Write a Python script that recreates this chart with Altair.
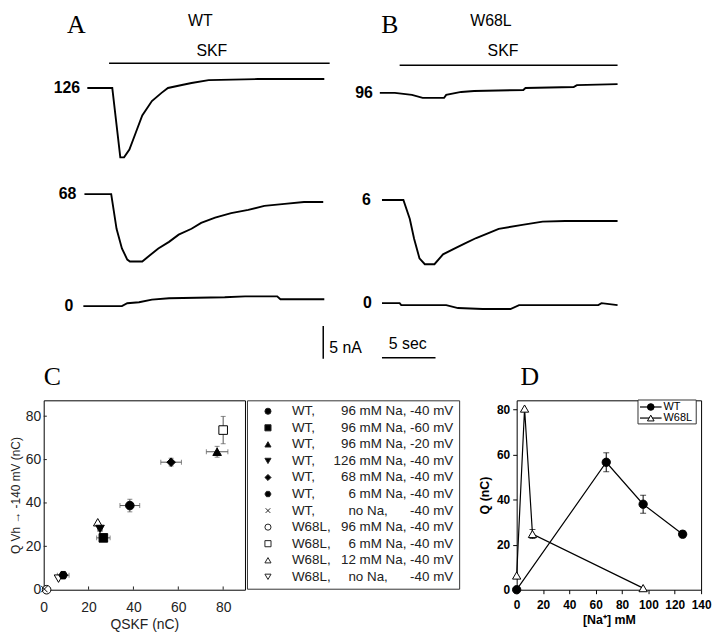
import altair as alt
import pandas as pd

FONT = "Liberation Sans"
SERIF = "Liberation Serif"

# ---------------- Panels A (WT) and B (W68L): current records ----------------
# time in s from the start of each record, current in nA relative to the holding current
a126_t = [0.37, 2.7, 3.45, 3.8, 4.3, 4.9, 5.5, 6.4, 7.3, 7.9, 9.2, 10.1, 11.7, 16.3, 22.5]
a126_i = [0.0, 0.0, -10.6, -10.6, -9.4, -6.8, -4.2, -2.0, -0.75, 0.0, 0.45, 0.75, 1.2, 1.36, 1.36]
a68_t = [0.1, 2.6, 3.1, 3.6, 4.1, 4.35, 5.5, 6.1, 7.0, 8.0, 8.9, 10.1, 11.0, 12.3, 13.8, 15.4, 16.9, 18.8, 20.6, 22.4]
a68_i = [0.0, 0.0, -5.3, -8.3, -10.0, -10.3, -10.3, -9.5, -8.3, -7.3, -6.2, -5.3, -4.4, -3.6, -2.9, -2.4, -1.8, -1.5, -1.2, -1.2]
a0_t = [0.0, 3.6, 4.1, 5.2, 6.4, 8.0, 13.2, 15.1, 18.1, 18.4, 22.5]
a0_i = [0.0, 0.0, 0.45, 0.6, 1.0, 1.2, 1.35, 1.5, 1.5, 1.05, 1.05]
b96_t = [0.0, 1.4, 3.0, 4.0, 6.0, 6.2, 7.6, 8.8, 13.4, 13.6, 18.1, 18.4, 22.2]
b96_i = [0.0, 0.0, -0.3, -0.75, -0.75, -0.3, 0.15, 0.3, 0.45, 0.75, 0.9, 1.2, 1.35]
b6_t = [0.2, 2.2, 2.8, 3.2, 3.7, 4.2, 5.1, 5.9, 7.1, 8.1, 9.0, 10.2, 11.1, 13.3, 15.2, 17.3, 22.2]
b6_i = [0.0, 0.0, -2.9, -5.9, -8.9, -9.8, -9.8, -8.3, -7.3, -6.5, -5.8, -5.0, -4.4, -3.8, -3.3, -3.2, -3.2]
b0_t = [0.2, 1.85, 2.0, 6.2, 7.3, 9.6, 12.2, 13.0, 20.4, 20.7, 22.2]
b0_i = [0.0, 0.0, -0.3, -0.3, -0.75, -0.9, -0.9, -0.3, -0.3, 0.0, -0.3]

a_labels = ["126", "68", "0"]
b_labels = ["96", "6", "0"]
skf_a = [2.4, 23.0]      # SKF application, panel A (s)
skf_b = [1.85, 22.2]     # SKF application, panel B (s)

# ---------------- Panel C ----------------
c_group = ["WT", "WT", "WT", "WT", "WT", "WT", "WT", "W68L", "W68L", "W68L", "W68L"]
c_cond = ["96 mM Na, -40 mV", "96 mM Na, -60 mV", "96 mM Na, -20 mV", "126 mM Na, -40 mV",
          "68 mM Na, -40 mV", "6 mM Na, -40 mV", "no Na,\u00a0\u00a0\u00a0\u00a0\u00a0\u00a0-40 mV",
          "96 mM Na, -40 mV", "6 mM Na, -40 mV", "12 mM Na, -40 mV",
          "no Na,\u00a0\u00a0\u00a0\u00a0\u00a0\u00a0-40 mV"]
c_qskf = [38.4, 26.6, 77.3, 25.1, 56.8, 8.7, 0.3, 1.3, 80.0, 24.1, 6.6]
c_qvh = [38.8, 23.9, 63.6, 28.0, 58.8, 6.7, 0.3, 0.0, 73.6, 31.1, 5.1]
c_qskf_err = [4.4, 3.0, 4.8, 1.0, 4.6, 2.6, 0.0, 0.0, 0.0, 0.0, 0.0]
c_qvh_err = [2.9, 1.5, 2.5, 1.0, 1.8, 1.0, 0.0, 0.0, 6.3, 0.0, 0.0]
HEX = "M-1,0L-0.5,-0.866L0.5,-0.866L1,0L0.5,0.866L-0.5,0.866Z"
CROSS = "M-0.75,-0.75L0.75,0.75M-0.75,0.75L0.75,-0.75"
c_shapes = ["circle", "square", "triangle-up", "triangle-down", "diamond", HEX, CROSS,
            "circle", "square", "triangle-up", "triangle-down"]
c_fills = ["black"] * 7 + ["white"] * 4
c_ticks = [0, 20, 40, 60, 80]

# ---------------- Panel D ----------------
d_wt_na = [0, 68, 96, 126]
d_wt_q = [0.0, 56.5, 37.9, 24.6]
d_wt_err = [0.0, 4.2, 4.0, 1.5]
d_mut_na = [0, 6, 12, 96]
d_mut_q = [6.3, 80.3, 24.7, 0.7]
d_mut_err = [0.0, 0.0, 2.0, 0.0]
d_xticks = [0, 20, 40, 60, 80, 100, 120, 140]
d_yticks = [0, 20, 40, 60, 80]

# ---------------- layout ----------------
S_PX = 10.8      # px per second in the records
NA_PX = 6.6      # px per nA in the records
TOP_H = 384
A_W, B_W = 301, 359
YMAX = TOP_H / NA_PX
A_DOM = [-40 / S_PX, (A_W - 40) / S_PX]
B_DOM = [-38 / S_PX, (B_W - 38) / S_PX]
A_BASE = [46.52, 30.3, 13.18]
B_BASE = [45.76, 29.39, 13.64]


def traces_df(ts, cs, names, bases):
    frames = []
    for t, c, n, b in zip(ts, cs, names, bases):
        frames.append(pd.DataFrame({"trace": n, "t": t, "v": [x + b for x in c]}))
    return pd.concat(frames, ignore_index=True)


def top_panel(df, dom, width, rules, texts):
    xs = alt.Scale(domain=dom, nice=False, zero=False)
    ys = alt.Scale(domain=[0, YMAX], nice=False, zero=False)

    def X(f):
        return alt.X(f"{f}:Q", scale=xs, axis=None)

    def Y(f):
        return alt.Y(f"{f}:Q", scale=ys, axis=None)

    layers = [alt.Chart(df).mark_line(color="black", strokeWidth=1.9, strokeJoin="miter").encode(
        x=X("t"), y=Y("v"), detail="trace:N")]
    rdf = pd.DataFrame(rules, columns=["t", "t2", "v", "v2", "w"])
    layers.append(alt.Chart(rdf).mark_rule(color="black").encode(
        x=X("t"), x2="t2:Q", y=Y("v"), y2="v2:Q",
        strokeWidth=alt.StrokeWidth("w:Q", scale=None)))
    for rows, style in texts:
        tdf = pd.DataFrame(rows, columns=["label", "t", "v"])
        layers.append(alt.Chart(tdf).mark_text(color="black", baseline="middle", **style).encode(
            x=X("t"), y=Y("v"), text="label:N"))
    return alt.layer(*layers).properties(width=width, height=TOP_H,
                                         view=alt.ViewBackground(stroke="transparent"))


LETTER = dict(font=SERIF, fontSize=26)
HEAD = dict(font=FONT, fontSize=16)
TLAB = dict(font=FONT, fontSize=16, fontWeight="bold", align="right")

dfA = traces_df([a126_t, a68_t, a0_t], [a126_i, a68_i, a0_i], a_labels, A_BASE)
dfB = traces_df([b96_t, b6_t, b0_t], [b96_i, b6_i, b0_i], b_labels, B_BASE)

panelA = top_panel(
    dfA, A_DOM, A_W,
    rules=[[skf_a[0], skf_a[1], 50.3, 50.3, 1.5],
           [22.4, 22.4, 5.15, 10.15, 1.5]],
    texts=[([["A", -0.65, 56.06], ["C", -2.9, 2.27]], LETTER),
           ([["WT", 10.93, 56.82], ["SKF", 12.0, 52.12]], HEAD),
           ([[a_labels[0], -0.3, A_BASE[0]], [a_labels[1], -0.65, A_BASE[1]],
             [a_labels[2], -0.93, A_BASE[2]]], TLAB),
           ([["5 nA", 22.96, 6.82]], dict(font=FONT, fontSize=16, align="left"))])

panelB = top_panel(
    dfB, B_DOM, B_W,
    rules=[[skf_b[0], skf_b[1], 50.0, 50.0, 1.5],
           [0.2, 5.2, 5.3, 5.3, 1.5]],
    texts=[([["B", 0.93, 56.06], ["D", 14.0, 2.27]], LETTER),
           ([["W68L", 10.37, 56.82], ["SKF", 11.5, 52.12]], HEAD),
           ([[b_labels[0], -0.65, B_BASE[0]], [b_labels[1], -0.83, B_BASE[1]],
             [b_labels[2], -0.74, B_BASE[2]]], TLAB),
           ([["5 sec", 2.6, 7.42]], HEAD)])

top = alt.hconcat(panelA, panelB, spacing=0, bounds="flush")

# ---------------- Panel C chart ----------------
C_W, C_H = 203, 191
cxs = alt.Scale(domain=[0, C_W / 2.2625], nice=False, zero=False)
cys = alt.Scale(domain=[0, C_H / 2.1875], nice=False, zero=False)
c_labels = [g + ", " + c for g, c in zip(c_group, c_cond)]
shape_scale = alt.Scale(domain=c_labels, range=c_shapes)
fill_scale = alt.Scale(domain=c_labels, range=c_fills)

cx_axis = alt.Axis(values=c_ticks, ticks=False, domain=False, grid=False, labelFlush=False,
                   labelFont=FONT, labelFontSize=14, labelColor="#222", labelPadding=11,
                   title="QSKF (nC)", titleFont=FONT, titleFontSize=14, titleFontWeight="normal",
                   titleColor="#222", titlePadding=3)
cy_axis = alt.Axis(values=c_ticks, ticks=False, domain=False, grid=False, labelFlush=False,
                   labelFont=FONT, labelFontSize=14, labelColor="#222", labelPadding=3,
                   title="Q Vh \u2192 -140 mV (nC)", titleFont=FONT, titleFontSize=12,
                   titleFontWeight="normal", titleColor="#222", titlePadding=3)


def CX(f):
    return alt.X(f"{f}:Q", scale=cxs, axis=cx_axis)


def CY(f):
    return alt.Y(f"{f}:Q", scale=cys, axis=cy_axis)


c_df = pd.DataFrame({"label": c_labels, "group": c_group, "x": c_qskf, "y": c_qvh,
                     "xerr": c_qskf_err, "yerr": c_qvh_err})
c_df["xlo"] = c_df.x - c_df.xerr
c_df["xhi"] = c_df.x + c_df.xerr
c_df["ylo"] = c_df.y - c_df.yerr
c_df["yhi"] = c_df.y + c_df.yerr
c_draw = pd.concat([c_df[c_df.group == "W68L"], c_df[c_df.group == "WT"]], ignore_index=True)

EB = "#555"
c_hbar = alt.Chart(c_df).transform_filter("datum.xerr > 0").mark_rule(color=EB, strokeWidth=1).encode(
    x=CX("xlo"), x2="xhi:Q", y=CY("y"))
c_vbar = alt.Chart(c_df).transform_filter("datum.yerr > 0").mark_rule(color=EB, strokeWidth=1).encode(
    x=CX("x"), y=CY("ylo"), y2="yhi:Q")
c_hcap = alt.Chart(c_df).transform_filter("datum.xerr > 0").transform_fold(
    ["xlo", "xhi"], as_=["k", "cx"]).mark_tick(orient="vertical", size=5, thickness=1, color=EB).encode(
    x=CX("cx"), y=CY("y"))
c_vcap = alt.Chart(c_df).transform_filter("datum.yerr > 0").transform_fold(
    ["ylo", "yhi"], as_=["k", "cy"]).mark_tick(orient="horizontal", size=5, thickness=1, color=EB).encode(
    x=CX("x"), y=CY("cy"))
c_pts = alt.Chart(c_draw).mark_point(filled=True, size=75, strokeWidth=1, opacity=1).encode(
    x=CX("x"), y=CY("y"),
    shape=alt.Shape("label:N", scale=shape_scale, legend=None),
    fill=alt.Fill("label:N", scale=fill_scale, legend=None),
    stroke=alt.value("black"))
tick_df = pd.DataFrame({"p": c_ticks[1:]})
c_xt = alt.Chart(tick_df).transform_calculate(a="0", b="1.5").mark_rule(color="#222").encode(
    x=CX("p"), y=CY("a"), y2="b:Q")
c_yt = alt.Chart(tick_df).transform_calculate(a="0", b="1.4").mark_rule(color="#222").encode(
    y=CY("p"), x=CX("a"), x2="b:Q")
c_chart = alt.layer(c_xt, c_yt, c_hbar, c_vbar, c_hcap, c_vcap, c_pts).properties(width=C_W, height=C_H)

# ---------------- legend of panel C ----------------
L_W, L_H = 214, 190
lxs = alt.Scale(domain=[0, 1], nice=False, zero=False)
lys = alt.Scale(domain=[-0.66, 10.72], nice=False, zero=False, reverse=True)
leg_df = pd.DataFrame({"label": c_labels, "g": [g + "," for g in c_group], "c": c_cond,
                       "row": list(range(len(c_labels)))})
leg = alt.Chart(leg_df).transform_calculate(sx="0.099", t1="0.212", t2="0.972")
l_sym = leg.mark_point(filled=True, size=38, strokeWidth=1, opacity=1).encode(
    x=alt.X("sx:Q", scale=lxs, axis=None), y=alt.Y("row:Q", scale=lys, axis=None),
    shape=alt.Shape("label:N", scale=shape_scale, legend=None),
    fill=alt.Fill("label:N", scale=fill_scale, legend=None),
    stroke=alt.value("#222"))
l_t1 = leg.mark_text(align="left", baseline="middle", font=FONT, fontSize=13.5, color="#222").encode(
    x=alt.X("t1:Q", scale=lxs, axis=None), y=alt.Y("row:Q", scale=lys, axis=None), text="g:N")
l_t2 = leg.mark_text(align="right", baseline="middle", font=FONT, fontSize=13.5, color="#222").encode(
    x=alt.X("t2:Q", scale=lxs, axis=None), y=alt.Y("row:Q", scale=lys, axis=None), text="c:N")
leg_chart = alt.layer(l_sym, l_t1, l_t2).properties(width=L_W, height=L_H,
                                                     view=alt.ViewBackground(stroke="#333"))

# ---------------- Panel D chart ----------------
D_W, D_H = 186, 191
dxs = alt.Scale(domain=[0, 140], nice=False, zero=False)
dys = alt.Scale(domain=[0, D_H / 2.275], nice=False, zero=False)
dx_axis = alt.Axis(values=d_xticks, grid=False, domain=False, tickSize=4, tickColor="black",
                   labelFlush=False, labelFont=FONT, labelFontSize=12, labelFontWeight="bold",
                   labelColor="black", labelPadding=6, title="[Na\u207a] mM", titleFont=FONT,
                   titleFontSize=12.5, titleFontWeight="bold", titleColor="black", titlePadding=3)
dy_axis = alt.Axis(values=d_yticks, grid=False, domain=False, tickSize=4, tickColor="black",
                   labelFlush=False, labelFont=FONT, labelFontSize=12, labelFontWeight="bold",
                   labelColor="black", labelPadding=3, title="Q (nC)", titleFont=FONT,
                   titleFontSize=12.5, titleFontWeight="bold", titleColor="black", titlePadding=5)


def DX(f):
    return alt.X(f"{f}:Q", scale=dxs, axis=dx_axis)


def DY(f):
    return alt.Y(f"{f}:Q", scale=dys, axis=dy_axis)


d_df = pd.concat([
    pd.DataFrame({"s": "WT", "na": d_wt_na, "q": d_wt_q, "e": d_wt_err}),
    pd.DataFrame({"s": "W68L", "na": d_mut_na, "q": d_mut_q, "e": d_mut_err}),
], ignore_index=True)
d_df["lo"] = d_df.q - d_df.e
d_df["hi"] = d_df.q + d_df.e
d_series = ["WT", "W68L"]
d_shape = alt.Scale(domain=d_series, range=["circle", "triangle-up"])
d_fill = alt.Scale(domain=d_series, range=["black", "white"])

d_lines = alt.Chart(d_df).mark_line(color="black", strokeWidth=1.2).encode(
    x=DX("na"), y=DY("q"), detail="s:N")
d_err = alt.Chart(d_df).transform_filter("datum.e > 0").mark_rule(color="black", strokeWidth=1).encode(
    x=DX("na"), y=DY("lo"), y2="hi:Q")
d_cap = alt.Chart(d_df).transform_filter("datum.e > 0").transform_fold(
    ["lo", "hi"], as_=["k", "cy"]).mark_tick(orient="horizontal", size=6, thickness=1, color="black").encode(
    x=DX("na"), y=DY("cy"))
d_pts = alt.Chart(d_df).mark_point(filled=True, size=70, strokeWidth=1, opacity=1).encode(
    x=DX("na"), y=DY("q"),
    shape=alt.Shape("s:N", scale=d_shape, legend=None),
    fill=alt.Fill("s:N", scale=d_fill, legend=None),
    stroke=alt.value("black"))

# in-plot legend of panel D (drawn in data coordinates)
dl_df = pd.DataFrame({"s": d_series, "ly": [81.0, 76.1]})
dl_box = alt.Chart(pd.DataFrame({"a": [92.1], "b": [136.3], "c": [73.5], "d": [84.1]})).mark_rect(
    fill="white", stroke="#333", strokeWidth=1).encode(x=DX("a"), x2="b:Q", y=DY("c"), y2="d:Q")
dl_base = alt.Chart(dl_df).transform_calculate(l0="93.6", l1="110", sx="101.8", tx="111.5")
dl_line = dl_base.mark_rule(color="black", strokeWidth=1.2).encode(x=DX("l0"), x2="l1:Q", y=DY("ly"))
dl_sym = dl_base.mark_point(filled=True, size=45, strokeWidth=1, opacity=1).encode(
    x=DX("sx"), y=DY("ly"),
    shape=alt.Shape("s:N", scale=d_shape, legend=None),
    fill=alt.Fill("s:N", scale=d_fill, legend=None),
    stroke=alt.value("black"))
dl_txt = dl_base.mark_text(align="left", baseline="middle", font=FONT, fontSize=11, color="black").encode(
    x=DX("tx"), y=DY("ly"), text="s:N")

d_chart = alt.layer(d_lines, d_err, d_cap, d_pts, dl_box, dl_line, dl_sym, dl_txt).properties(
    width=D_W, height=D_H)

bottom = alt.hconcat(alt.hconcat(c_chart, leg_chart, spacing=0), d_chart, spacing=18).resolve_scale(
    shape="independent", fill="independent")

chart = alt.vconcat(top, bottom, spacing=5).properties(padding=0).resolve_scale(
    shape="independent", fill="independent").configure_view(stroke="black", strokeWidth=1)

chart.save("out.html", embed_options={"renderer": "svg", "actions": False})
